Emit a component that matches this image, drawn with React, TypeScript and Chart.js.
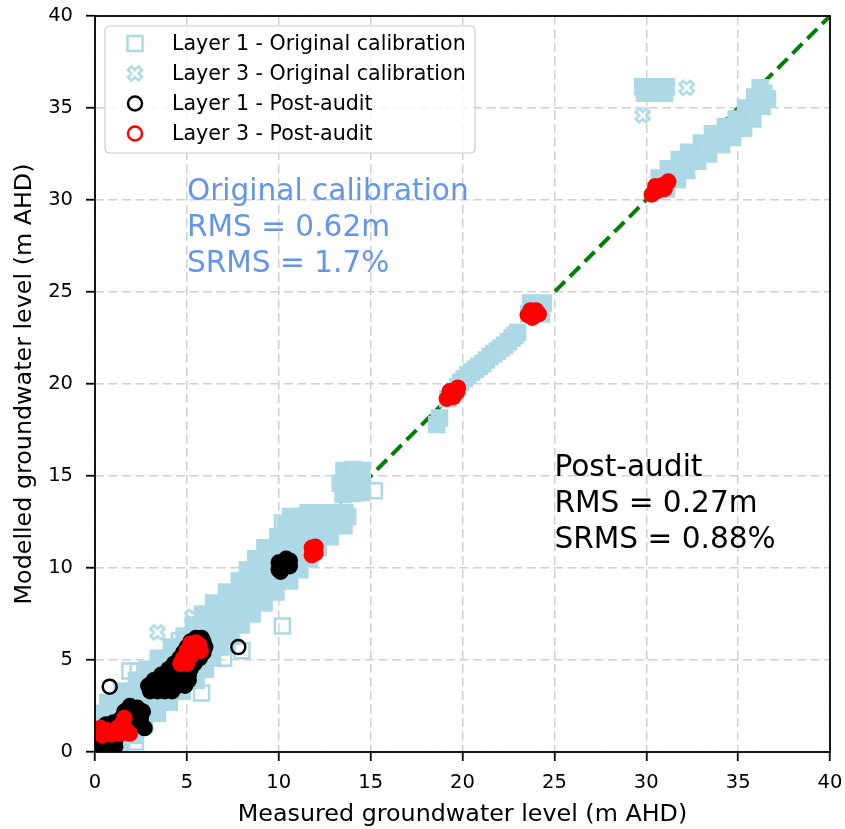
import React, { useEffect, useRef } from 'react';
import { Chart, registerables } from 'chart.js';

Chart.register(...registerables);

type P = [number, number];

// ---------- data ----------
const AXIS_MIN = 0;
const AXIS_MAX = 40;
const TICK_STEP = 5;

// Original calibration – dense cloud (layers 1 & 3)
const origCloud: P[] = [
  [0.3, 0.3], [0.9, 0.3], [1.45, 0.3],
  [0.3, 0.9], [0.9, 0.9], [1.5, 0.9], [2.1, 0.9],
  [0.3, 1.5], [0.95, 1.5], [1.6, 1.5], [2.2, 1.5], [2.7, 1.5],
  [0.3, 2.1], [0.95, 2.1], [1.6, 2.1], [2.25, 2.1], [2.9, 2.1], [3.4, 2.1],
  [0.7, 2.7], [1.35, 2.7], [2.0, 2.7], [2.7, 2.7], [3.4, 2.7], [4.05, 2.7],
  [1.45, 3.3], [2.1, 3.3], [2.75, 3.3], [3.45, 3.3], [4.1, 3.3], [4.75, 3.3],
  [2.25, 3.9], [2.9, 3.9], [3.55, 3.9], [4.2, 3.9], [4.85, 3.9], [5.5, 3.9],
  [2.85, 4.5], [3.5, 4.5], [4.15, 4.5], [4.8, 4.5], [5.4, 4.5], [6.0, 4.5],
  [3.45, 5.1], [4.1, 5.1], [4.75, 5.1], [5.4, 5.1], [6.0, 5.1], [6.4, 5.1],
  [4.15, 5.7], [4.8, 5.7], [5.5, 5.7], [6.2, 5.7], [6.85, 5.7],
  [4.85, 6.3], [5.5, 6.3], [6.15, 6.3], [6.8, 6.3], [7.4, 6.3],
  [5.35, 6.9], [6.0, 6.9], [6.65, 6.9], [7.3, 6.9], [7.95, 6.9],
  [5.85, 7.5], [6.5, 7.5], [7.2, 7.5], [7.9, 7.5], [8.55, 7.5],
  [6.45, 8.1], [7.1, 8.1], [7.8, 8.1], [8.5, 8.1], [9.2, 8.1],
  [7.15, 8.7], [7.8, 8.7], [8.5, 8.7], [9.2, 8.7], [9.85, 8.7],
  [7.85, 9.3], [8.5, 9.3], [9.2, 9.3], [9.9, 9.3], [10.6, 9.3],
  [8.3, 9.9], [9.0, 9.9], [9.7, 9.9], [10.45, 9.9], [11.15, 9.9],
  [8.75, 10.5], [9.45, 10.5], [10.2, 10.5], [10.9, 10.5], [11.65, 10.5],
  [9.25, 11.1], [9.95, 11.1], [10.7, 11.1], [11.45, 11.1], [12.15, 11.1],
  [9.95, 11.7], [10.7, 11.7], [11.4, 11.7], [12.1, 11.7], [12.8, 11.7],
  [10.35, 12.3], [11.0, 12.3], [11.65, 12.3], [12.3, 12.3], [12.95, 12.3], [13.55, 12.3],
  [10.65, 12.8], [11.3, 12.8], [11.95, 12.8], [12.6, 12.8], [13.2, 12.8], [13.75, 12.8],
  [11.6, 13.0], [12.3, 13.0], [13.0, 13.0], [13.6, 13.0],
  [13.5, 14.0], [14.0, 14.05], [14.5, 14.1], [13.35, 14.6], [13.9, 14.6], [14.55, 14.65],
  [13.55, 15.3], [14.05, 15.35], [14.5, 15.3],
  [18.6, 17.8], [18.75, 18.15],
  [19.2, 19.2], [19.4, 19.4], [19.6, 19.6], [19.75, 19.85], [19.9, 20.1], [20.1, 20.3],
  [20.3, 20.5], [20.5, 20.65], [20.7, 20.8], [20.9, 20.95], [21.1, 21.1], [21.3, 21.3],
  [21.5, 21.5], [21.7, 21.65], [21.9, 21.8], [22.1, 21.95], [22.3, 22.1], [22.5, 22.3],
  [22.7, 22.5], [22.85, 22.65], [23.0, 22.8],
  [23.6, 23.8], [24.3, 23.8], [23.7, 24.4], [24.4, 24.4], [24.0, 24.1],
  [30.7, 31.2], [31.2, 31.7], [31.8, 32.2], [32.3, 32.6], [33.0, 33.1], [33.6, 33.6],
  [34.3, 34.0], [34.9, 34.4], [35.4, 35.0], [35.9, 35.6], [36.2, 36.1],
  [30.9, 30.9], [31.45, 31.4], [32.0, 31.9], [32.55, 32.35], [33.2, 32.8], [33.85, 33.3],
  [34.5, 33.7], [35.1, 34.15], [35.6, 34.7], [36.1, 35.35], [36.4, 35.8],
  [30.5, 30.5], [31.1, 30.6], [31.7, 31.1], [32.2, 31.6], [32.8, 32.1], [33.4, 32.5],
  [34.1, 33.0], [34.7, 33.4], [35.3, 33.9], [35.8, 34.4], [36.3, 35.1], [36.6, 35.5],
  [29.8, 36.15], [30.4, 36.15], [31.1, 36.15], [29.9, 35.8], [30.5, 35.8], [31.0, 35.8],
];

// Layer 1 original calibration – isolated open squares
const origL1Outliers: P[] = [
  [15.2, 14.2], [10.2, 6.85], [8.0, 5.5], [1.9, 4.4], [2.35, 4.4],
  [4.6, 6.05], [10.2, 12.45], [2.2, 0.55], [7.0, 5.1], [5.8, 3.2],
];

// Layer 3 original calibration – isolated open crosses
const origL3Outliers: P[] = [
  [3.4, 6.5], [5.3, 7.35], [32.2, 36.1], [29.8, 34.6],
];

// Layer 1 post-audit – dense clusters
const postL1Cloud: P[] = [
  [0.3, 0.25], [0.7, 0.25], [1.1, 0.3], [0.3, 0.6], [0.7, 0.6], [1.1, 0.65],
  [0.5, 1.0], [1.0, 1.1], [1.4, 1.3], [1.0, 1.6], [1.4, 1.8], [1.8, 2.0],
  [2.2, 2.1], [2.5, 1.9], [2.5, 1.6], [2.1, 1.5], [1.8, 1.5], [1.6, 2.2],
  [2.0, 2.3], [0.6, 1.5], [2.6, 2.2], [2.3, 2.4], [1.9, 2.5], [2.7, 1.3],
  [3.0, 3.3], [3.4, 3.3], [3.8, 3.3], [4.2, 3.3],
  [2.9, 3.6], [3.3, 3.6], [3.7, 3.6], [4.1, 3.6], [4.5, 3.6], [4.9, 3.6],
  [3.2, 3.9], [3.6, 3.9], [4.0, 3.9], [4.4, 3.9], [4.8, 3.9], [5.1, 3.9],
  [3.6, 4.2], [4.0, 4.2], [4.4, 4.2], [4.8, 4.2], [5.1, 4.2],
  [4.0, 4.5], [4.4, 4.5], [4.8, 4.5], [5.2, 4.5],
  [4.3, 4.8], [4.7, 4.8], [5.1, 4.8], [5.4, 4.8],
  [4.6, 5.1], [5.0, 5.1], [5.4, 5.1], [5.7, 5.1],
  [4.8, 5.4], [5.2, 5.4], [5.6, 5.4], [5.9, 5.4],
  [5.0, 5.7], [5.4, 5.7], [5.8, 5.7], [6.0, 5.7],
  [5.2, 6.0], [5.6, 6.0], [5.9, 6.0],
  [5.5, 6.2], [5.8, 6.2],
  [10.0, 9.9], [10.3, 10.1], [10.6, 10.4], [10.4, 10.5], [10.1, 9.8],
  [10.0, 10.3], [10.6, 10.1],
];

// Layer 1 post-audit – isolated open circles
const postL1Outliers: P[] = [
  [0.8, 3.55], [7.8, 5.7],
];

// Layer 3 post-audit – dense clusters
const postL3Cloud: P[] = [
  [0.4, 0.9], [0.9, 0.95], [1.4, 1.0], [1.7, 1.2], [0.6, 1.2], [1.2, 1.3],
  [1.5, 1.6], [1.6, 1.85], [0.3, 1.3], [1.9, 1.0],
  [4.65, 4.8], [5.0, 4.8], [4.8, 5.1], [5.2, 5.2], [5.0, 5.5], [5.4, 5.6],
  [5.7, 5.8], [5.5, 5.95], [5.2, 5.9], [5.75, 5.5],
  [11.8, 10.7], [12.0, 10.8], [11.8, 11.1], [12.0, 11.15],
  [19.15, 19.2], [19.45, 19.45], [19.75, 19.8], [19.5, 19.3], [19.3, 19.6], [19.7, 19.55],
  [23.55, 23.75], [23.85, 23.7], [24.15, 23.8], [23.8, 23.85], [23.8, 23.6],
  [23.7, 24.0], [24.0, 24.0],
  [30.3, 30.3], [30.6, 30.5], [30.9, 30.8], [31.2, 31.0], [30.5, 30.75], [31.0, 30.6],
];

// 1:1 line
const oneToOne: P[] = [[0, 0], [40, 40]];

const legendLabels = [
  'Layer 1 - Original calibration',
  'Layer 3 - Original calibration',
  'Layer 1 - Post-audit',
  'Layer 3 - Post-audit',
];
const origText = ['Original calibration', 'RMS = 0.62m', 'SRMS = 1.7%'];
const postText = ['Post-audit', 'RMS = 0.27m', 'SRMS = 0.88%'];
const origTextAnchor: P = [5, 30];
const postTextAnchor: P = [25, 15];
const xTitle = 'Measured groundwater level (m AHD)';
const yTitle = 'Modelled groundwater level (m AHD)';

// ---------- styles ----------
const BLUE = '#add8e6';
const RED = '#ff0000';
const BLACK = '#000000';
const GREEN = '#008000';
const ANNOT_BLUE = '#6495ed';
const FONT = '"DejaVu Sans", "Liberation Sans", sans-serif';

function makeXMarker(color: string, size: number, lw: number): HTMLCanvasElement {
  const ext = size * 0.4714;
  const dim = Math.ceil(2 * ext + 2 * lw + 2);
  const c = document.createElement('canvas');
  c.width = dim;
  c.height = dim;
  const ctx = c.getContext('2d')!;
  const base = [[-1, -3], [1, -3], [1, -1], [3, -1], [3, 1], [1, 1], [1, 3], [-1, 3], [-1, 1], [-3, 1], [-3, -1], [-1, -1]];
  ctx.translate(dim / 2, dim / 2);
  ctx.rotate(Math.PI / 4);
  ctx.beginPath();
  base.forEach(([x, y], i) => {
    const px = (x * size) / 6;
    const py = (y * size) / 6;
    if (i === 0) ctx.moveTo(px, py);
    else ctx.lineTo(px, py);
  });
  ctx.closePath();
  ctx.lineWidth = lw;
  ctx.strokeStyle = color;
  ctx.lineJoin = 'miter';
  ctx.stroke();
  return c;
}

const toXY = (a: P[]) => a.map(([x, y]) => ({ x, y }));

export default function App() {
  const ref = useRef<HTMLCanvasElement>(null);

  useEffect(() => {
    const canvas = ref.current;
    if (!canvas) return;
    const xMark = makeXMarker(BLUE, 15, 2.5);

    const overlay = {
      id: 'overlay',
      afterDatasetsDraw(chart: any) {
        const { ctx, chartArea: ca, scales } = chart;
        const xs = scales.x;
        const ys = scales.y;
        ctx.save();
        ctx.setLineDash([]);
        // frame (all four spines)
        ctx.lineWidth = 1.8;
        ctx.strokeStyle = '#000';
        ctx.strokeRect(ca.left, ca.top, ca.right - ca.left, ca.bottom - ca.top);

        // annotations
        ctx.font = `29.6px ${FONT}`;
        ctx.textAlign = 'left';
        ctx.textBaseline = 'alphabetic';
        const lineGap = 36;
        ctx.fillStyle = ANNOT_BLUE;
        origText.forEach((t, i) => {
          ctx.fillText(t, xs.getPixelForValue(origTextAnchor[0]), ys.getPixelForValue(origTextAnchor[1]) + i * lineGap);
        });
        ctx.fillStyle = BLACK;
        postText.forEach((t, i) => {
          ctx.fillText(t, xs.getPixelForValue(postTextAnchor[0]), ys.getPixelForValue(postTextAnchor[1]) + i * lineGap);
        });

        // legend
        const bx = ca.left + 10;
        const by = ca.top + 10;
        const bw = 370;
        const bh = 127;
        const r = 5;
        ctx.beginPath();
        ctx.moveTo(bx + r, by);
        ctx.lineTo(bx + bw - r, by);
        ctx.quadraticCurveTo(bx + bw, by, bx + bw, by + r);
        ctx.lineTo(bx + bw, by + bh - r);
        ctx.quadraticCurveTo(bx + bw, by + bh, bx + bw - r, by + bh);
        ctx.lineTo(bx + r, by + bh);
        ctx.quadraticCurveTo(bx, by + bh, bx, by + bh - r);
        ctx.lineTo(bx, by + r);
        ctx.quadraticCurveTo(bx, by, bx + r, by);
        ctx.closePath();
        ctx.fillStyle = 'rgba(255,255,255,0.8)';
        ctx.fill();
        ctx.lineWidth = 1.2;
        ctx.strokeStyle = '#cccccc';
        ctx.stroke();

        const mx = ca.left + 40;
        const tx = ca.left + 77;
        ctx.font = `20.6px ${FONT}`;
        legendLabels.forEach((label, i) => {
          const cy = ca.top + 27.5 + i * 30;
          ctx.lineWidth = 2.5;
          if (i === 0) {
            ctx.strokeStyle = BLUE;
            ctx.strokeRect(mx - 7.5, cy - 7.5, 15, 15);
          } else if (i === 1) {
            ctx.drawImage(xMark, mx - xMark.width / 2, cy - xMark.height / 2);
          } else {
            ctx.strokeStyle = i === 2 ? BLACK : RED;
            ctx.beginPath();
            ctx.arc(mx, cy, 7, 0, Math.PI * 2);
            ctx.stroke();
          }
          ctx.fillStyle = BLACK;
          ctx.fillText(label, tx, cy + 6.8);
        });
        ctx.restore();
      },
    };

    const tickFont = { family: FONT, size: 19.5 };
    const titleFont = { family: FONT, size: 23.8 };
    const gridOpts = {
      color: '#d0d0d0',
      lineWidth: 1.5,
      tickLength: 9,
      tickColor: '#000',
      tickWidth: 1.8,
    };
    const zeroPad = (s: any) => {
      s.paddingLeft = 0;
      s.paddingRight = 0;
      s.paddingTop = 0;
      s.paddingBottom = 0;
    };

    const chart = new Chart(canvas, {
      type: 'scatter',
      data: {
        datasets: [
          {
            label: 'oneToOne',
            data: toXY(oneToOne),
            showLine: true,
            borderColor: GREEN,
            borderWidth: 4,
            borderDash: [14, 7],
            pointRadius: 0,
            fill: false,
            order: 10,
            clip: 0,
          },
          {
            label: 'origCloud',
            data: toXY(origCloud),
            pointStyle: 'rect',
            pointRadius: 10.6,
            pointBackgroundColor: BLUE,
            pointBorderColor: BLUE,
            pointBorderWidth: 2.5,
            order: 8,
            clip: 0,
          },
          {
            label: legendLabels[0],
            data: toXY(origL1Outliers),
            pointStyle: 'rect',
            pointRadius: 10.6,
            pointBackgroundColor: 'rgba(0,0,0,0)',
            pointBorderColor: BLUE,
            pointBorderWidth: 2.5,
            order: 7,
            clip: 0,
          },
          {
            label: legendLabels[1],
            data: toXY(origL3Outliers),
            pointStyle: xMark,
            pointRadius: 8,
            order: 7,
            clip: 0,
          },
          {
            label: 'postL1Cloud',
            data: toXY(postL1Cloud),
            pointStyle: 'circle',
            pointRadius: 7,
            pointBackgroundColor: BLACK,
            pointBorderColor: BLACK,
            pointBorderWidth: 2.5,
            order: 5,
            clip: 0,
          },
          {
            label: legendLabels[2],
            data: toXY(postL1Outliers),
            pointStyle: 'circle',
            pointRadius: 7,
            pointBackgroundColor: 'rgba(0,0,0,0)',
            pointBorderColor: BLACK,
            pointBorderWidth: 2.5,
            order: 4,
            clip: 0,
          },
          {
            label: legendLabels[3],
            data: toXY(postL3Cloud),
            pointStyle: 'circle',
            pointRadius: 7,
            pointBackgroundColor: RED,
            pointBorderColor: RED,
            pointBorderWidth: 2.5,
            order: 2,
            clip: 0,
          },
        ] as any,
      },
      options: {
        responsive: false,
        animation: false,
        events: [],
        layout: { padding: { left: 0, top: 16, right: 15, bottom: 0 } },
        plugins: {
          legend: { display: false },
          tooltip: { enabled: false },
          title: { display: false },
        },
        scales: {
          x: {
            type: 'linear',
            min: AXIS_MIN,
            max: AXIS_MAX,
            ticks: { stepSize: TICK_STEP, padding: 10, font: tickFont, color: '#000', maxRotation: 0 },
            grid: gridOpts,
            border: { display: false, dash: [9, 4.5] },
            title: { display: true, text: xTitle, font: titleFont, color: '#000', padding: { top: 0, bottom: 0 } },
            afterFit: (s: any) => { s.height = 77; zeroPad(s); },
          },
          y: {
            type: 'linear',
            min: AXIS_MIN,
            max: AXIS_MAX,
            ticks: { stepSize: TICK_STEP, padding: 13, font: tickFont, color: '#000' },
            grid: gridOpts,
            border: { display: false, dash: [9, 4.5] },
            title: { display: true, text: yTitle, font: titleFont, color: '#000', padding: { top: 10.8, bottom: 0 } },
            afterFit: (s: any) => { s.width = 95; zeroPad(s); },
          },
        },
      } as any,
      plugins: [overlay],
    });

    return () => chart.destroy();
  }, []);

  return (
    <div style={{ position: 'fixed', left: 0, top: 0, width: 845, height: 829, background: '#fff' }}>
      <canvas ref={ref} width={845} height={829} style={{ display: 'block', width: 845, height: 829 }} />
    </div>
  );
}
